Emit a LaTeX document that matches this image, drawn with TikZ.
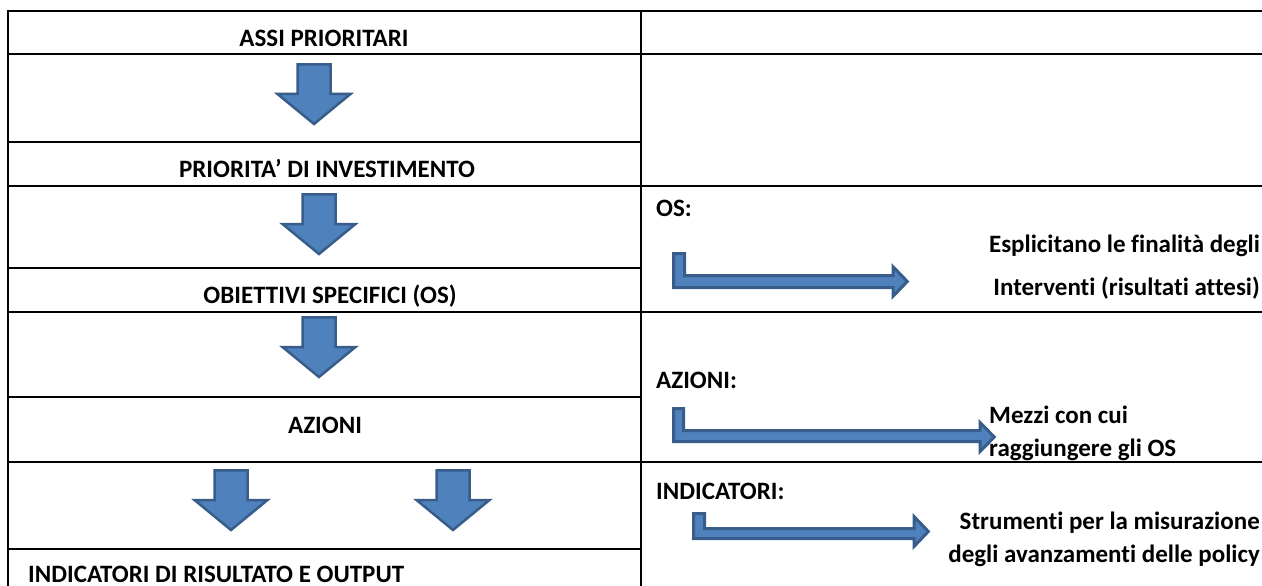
\documentclass[tikz,border=0pt]{standalone}
\usepackage{fontspec}
\setmainfont{Carlito}[Ligatures=NoCommon]
\usetikzlibrary{positioning}
\definecolor{officeblue}{HTML}{4F81BD}
\definecolor{officeedge}{HTML}{385D8A}
\tikzset{
  cell/.style ={font=\bfseries\fontsize{25}{30}\selectfont, inner sep=0pt, anchor=base},
  celll/.style={cell, anchor=base west},
  cellr/.style={cell, anchor=base east},
  grid/.style ={line width=2.2pt, color=black},
  bentarr/.style={line width=3pt, draw=officeedge, fill=officeblue},
  blockdown/.pic={
    \draw[line width=2.5pt, draw=officeedge, fill=officeblue]
      (-16.5,1.3) -- (16.5,1.3) -- (16.5,31) -- (36.5,31) -- (0,61)
      -- (-36.5,31) -- (-16.5,31) -- cycle;},
}
\begin{document}
\begin{tikzpicture}[x=1pt, y=-1pt]
  \useasboundingbox (0,0) rectangle (1262,586);
  % griglia tabella
  \draw[grid] (8,11) -- (1262,11);
  \draw[grid] (8,54) -- (1262,54);
  \draw[grid] (8,142) -- (641,142);
  \draw[grid] (8,186) -- (1262,186);
  \draw[grid] (8,268) -- (641,268);
  \draw[grid] (8,312) -- (1262,312);
  \draw[grid] (8,397) -- (641,397);
  \draw[grid] (8,462) -- (1262,462);
  \draw[grid] (8,549) -- (641,549);
  \draw[grid] (8,10) -- (8,590);
  \draw[grid] (641,10) -- (641,590);
  % colonna sinistra
  \node[cell]  (assi)   at (324,47)  {ASSI PRIORITARI};
  \node[cell]  (prio)   at (327,177) {PRIORITA’ DI INVESTIMENTO};
  \node[cell]  (obiet)  at (330,303) {OBIETTIVI SPECIFICI (OS)};
  \node[cell]  (azioni) at (325,433) {AZIONI};
  \node[celll] (indic)  at (28,582)  {INDICATORI DI RISULTATO E OUTPUT};
  \pic at (314,63)  {blockdown};
  \pic at (319,193) {blockdown};
  \pic at (319,316) {blockdown};
  \pic at (231,469) {blockdown};
  \pic at (453,469) {blockdown};
  % colonna destra
  \node[celll] (os)     at (656,216)  {OS:};
  \node[cellr] (espl)   at (1260,252) {Esplicitano le finalità degli};
  \node[cellr] (interv) at (1260,295) {Interventi (risultati attesi)};
  \node[celll] (az)     at (656,388)  {AZIONI:};
  \node[celll] (mezzi)  at (989,423)  {Mezzi con cui};
  \node[celll] (ragg)   at (989,456)  {raggiungere gli OS};
  \node[celll] (ind)    at (656,499)  {INDICATORI:};
  \node[cellr] (strum)  at (1260,529) {Strumenti per la misurazione};
  \node[cellr] (avanz)  at (1260,562) {degli avanzamenti delle policy};
  % frecce piegate
  \draw[bentarr] (673.5,253.5) -- (684.5,253.5) -- (684.5,275.5) -- (893,275.5)
       -- (893,266.7) -- (907.3,281.5) -- (893,296.3) -- (893,287.5) -- (673.5,287.5) -- cycle;
  \draw[bentarr] (673.5,408.5) -- (683.5,408.5) -- (683.5,430.5) -- (980,430.5)
       -- (980,422.5) -- (994.3,437) -- (980,451.5) -- (980,441.5) -- (673.5,441.5) -- cycle;
  \draw[bentarr] (693.5,513.5) -- (704.5,513.5) -- (704.5,528.5) -- (914,528.5)
       -- (914,516.5) -- (928.3,531.5) -- (914,546.5) -- (914,538.5) -- (693.5,538.5) -- cycle;
\end{tikzpicture}
\end{document}
